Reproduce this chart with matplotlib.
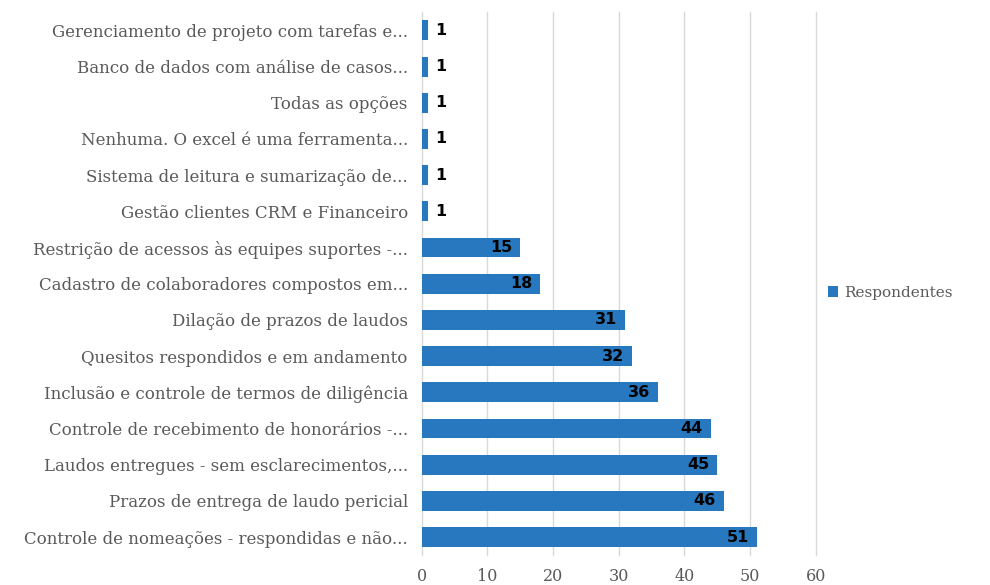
import matplotlib
matplotlib.use("Agg")
import matplotlib.pyplot as plt

categories = [
    "Controle de nomeações - respondidas e não...",
    "Prazos de entrega de laudo pericial",
    "Laudos entregues - sem esclarecimentos,...",
    "Controle de recebimento de honorários -...",
    "Inclusão e controle de termos de diligência",
    "Quesitos respondidos e em andamento",
    "Dilação de prazos de laudos",
    "Cadastro de colaboradores compostos em...",
    "Restrição de acessos às equipes suportes -...",
    "Gestão clientes CRM e Financeiro",
    "Sistema de leitura e sumarização de...",
    "Nenhuma. O excel é uma ferramenta...",
    "Todas as opções",
    "Banco de dados com análise de casos...",
    "Gerenciamento de projeto com tarefas e...",
]
values = [51, 46, 45, 44, 36, 32, 31, 18, 15, 1, 1, 1, 1, 1, 1]
series_name = "Respondentes"
xticks = [0, 10, 20, 30, 40, 50, 60]

plt.rcParams['font.family'] = ['DejaVu Serif']
fig = plt.figure(figsize=(9.9, 5.85), dpi=100)
ax = fig.add_axes([0.426, 0.051, 0.398, 0.928])

bar_color = "#2878C0"
ypos = list(range(len(categories)))
bars = ax.barh(ypos, values, height=0.55, color=bar_color, label=series_name, zorder=3)

ax.set_xlim(0, 60)
ax.set_ylim(-0.5, len(categories) - 0.5)
ax.set_xticks(xticks)
ax.set_xticklabels([str(t) for t in xticks])
ax.set_yticks(ypos)
ax.set_yticklabels(categories)
ax.tick_params(axis='both', length=0, colors="#595959")
ax.tick_params(axis='y', labelsize=12, pad=10)
ax.tick_params(axis='x', labelsize=11.5, pad=9)
ax.grid(axis='x', color="#D9D9D9", linewidth=1, zorder=0)
for l in ax.get_xgridlines():
    l.set_clip_on(False)
for s in ax.spines.values():
    s.set_visible(False)

for b, v in zip(bars, values):
    y = b.get_y() + b.get_height() / 2
    if v > 5:
        ax.text(v - 1.2, y, str(v), ha='right', va='center', fontsize=11.5,
                fontweight='bold', color='black', family='DejaVu Sans', zorder=4)
    else:
        ax.text(v + 1.0, y, str(v), ha='left', va='center', fontsize=11.5,
                fontweight='bold', color='black', family='DejaVu Sans', zorder=4)

leg = fig.legend(handles=[bars], labels=[series_name], loc='center left',
                 bbox_to_anchor=(0.822, 0.5), frameon=False, fontsize=11,
                 handlelength=0.7, handleheight=0.7, handletextpad=0.4,
                 labelcolor="#595959")

fig.savefig("out.png", dpi=100, facecolor="white")
